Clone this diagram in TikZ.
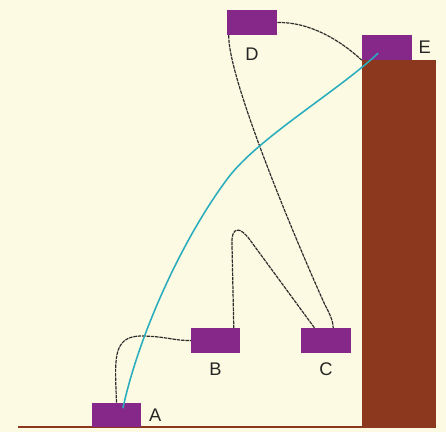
\documentclass[tikz,border=0pt]{standalone}
\usepackage{fontspec}
\setmainfont{Liberation Sans}
\usepackage{tikz}
\usetikzlibrary{positioning}
\definecolor{cBack}{RGB}{252,250,226}
\definecolor{cWall}{RGB}{140,56,30}
\definecolor{cBox}{RGB}{134,40,138}
\definecolor{cRope}{RGB}{45,45,45}
\definecolor{cCyan}{RGB}{40,172,190}
\tikzset{
  %% anchor boxes
  box/.style={rectangle, fill=cBox, minimum width=1.2cm, minimum height=0.6cm,
              inner sep=0pt},
  %% letters
  lbl/.style={font=\fontsize{13}{13}\selectfont, text=black!85, inner sep=0pt},
  %% lines
  rope/.style={draw=cRope, line width=0.85pt, dash pattern=on 2.5pt off 0.6pt},
  tether/.style={draw=cCyan, line width=1.1pt},
}

\begin{document}
\begin{tikzpicture}[x=0.025cm, y=-0.025cm]

%% -- background --
\fill[cBack] (0,0) rectangle (446,432);

%% -- wall and ground --
\fill[cWall] (362,60) rectangle (436,428);
\draw[cWall, line width=1.8pt] (18,427) -- (372,427);

%% --- boxes ---
\node[box] (A) at (116.5,415) {};
\node[box] (B) at (215.5,340.5) {};
\node[box, minimum width=1.25cm] (C) at (326,340.5) {};
\node[box, minimum width=1.25cm, minimum height=0.62cm] (D) at (252,22.5) {};
\node[box, minimum width=1.25cm, minimum height=0.62cm] (E) at (387,47.5) {};

%% --- labels ---
\node[lbl, right=0.2cm of A] (lA) {A};
\node[lbl, below=0.25cm of B] (lB) {B};
\node[lbl, below=0.25cm of C] (lC) {C};
\node[lbl, below=0.3cm of D] (lD) {D};
\node[lbl, right=0.15cm of E] (lE) {E};

%% -- ropes --
\draw[rope] (A.north) .. controls (115,360) and (112,337) .. (140,336)
  .. controls (165,336) and (175,341) .. (B.west);
\draw[rope] ([xshift=-0.15cm]B.north east) -- (232,245)
  .. controls (231,226) and (240,226) .. (250,240)
  -- ([xshift=0.35cm]C.north west);
\draw[rope] ([xshift=0.05cm]D.south west) .. controls (228,80) and (300,250) .. (325,305)
  .. controls (331,316) and (333,322) .. ([xshift=-0.45cm]C.north east);
\draw[rope] (D.east) .. controls (310,22) and (340,40) .. (E.south west);

%% -- tether A -> E --
\draw[tether] ([xshift=0.16cm, yshift=0.17cm]A.center)
  .. controls (140,330) and (185,235) .. (228,178)
  .. controls (258,138) and (338,91) .. ([xshift=-0.22cm, yshift=-0.14cm]E.center);

\end{tikzpicture}
\end{document}
